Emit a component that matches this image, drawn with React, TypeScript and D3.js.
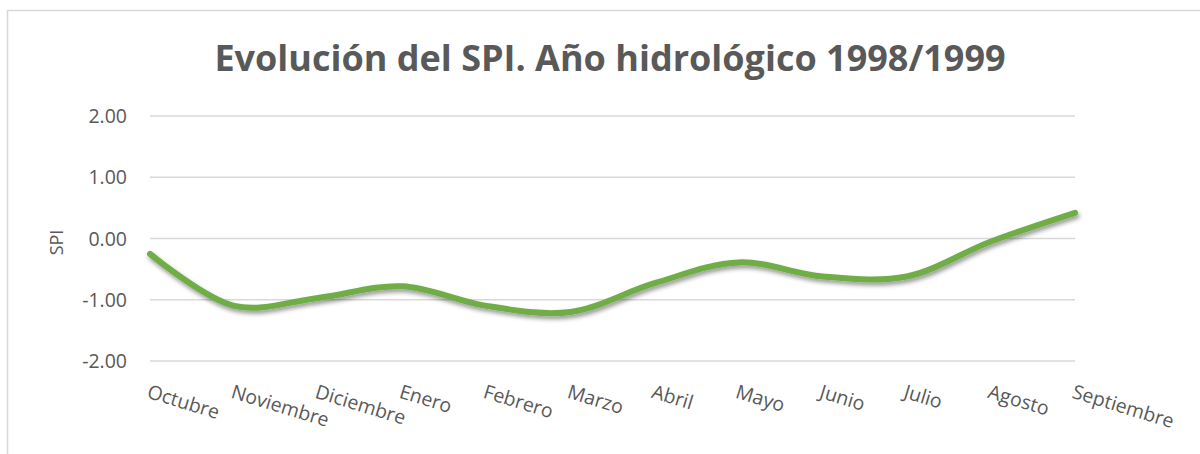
import React, { useEffect, useRef } from 'react';
import * as d3 from 'd3';

const MONTHS = [
  'Octubre', 'Noviembre', 'Diciembre', 'Enero', 'Febrero', 'Marzo',
  'Abril', 'Mayo', 'Junio', 'Julio', 'Agosto', 'Septiembre',
];
const SPI = [-0.25, -1.1, -0.97, -0.78, -1.1, -1.2, -0.73, -0.39, -0.62, -0.62, -0.05, 0.42];
const Y_TICKS = [-2, -1, 0, 1, 2];

const TITLE = 'Evolución del SPI. Año hidrológico 1998/1999';
const FONT = 'Open Sans, sans-serif';
const TEXT = '#595959';

const App: React.FC = () => {
  const svgRef = useRef<SVGSVGElement>(null);

  useEffect(() => {
    if (!svgRef.current) return;
    const width = 1200;
    const height = 454;
    const margin = { top: 116, right: 125, bottom: 93, left: 150 };
    const innerW = width - margin.left - margin.right;
    const innerH = height - margin.top - margin.bottom;

    const svg = d3.select(svgRef.current);
    svg.selectAll('*').remove();
    svg.attr('width', width).attr('height', height);

    const defs = svg.append('defs');
    const f = defs.append('filter').attr('id', 'shadow').attr('x', '-10%').attr('y', '-50%')
      .attr('width', '120%').attr('height', '200%');
    f.append('feDropShadow').attr('dx', 1.5).attr('dy', 3).attr('stdDeviation', 2.2)
      .attr('flood-color', '#000').attr('flood-opacity', 0.4);

    svg.append('rect').attr('width', width).attr('height', height).attr('fill', '#fff');
    svg.append('rect')
      .attr('x', 7.5).attr('y', 10.5).attr('width', 1300).attr('height', 600)
      .attr('fill', 'none').attr('stroke', '#d9d9d9').attr('stroke-width', 1.5);

    svg.append('text')
      .attr('x', 610).attr('y', 71)
      .attr('text-anchor', 'middle')
      .attr('fill', TEXT)
      .attr('font-family', FONT)
      .attr('font-weight', 'bold')
      .attr('font-size', '36px')
      .text(TITLE);

    const g = svg.append('g').attr('transform', `translate(${margin.left},${margin.top})`);

    const x = d3.scalePoint<string>().domain(MONTHS).range([0, innerW]);
    const y = d3.scaleLinear().domain([-2, 2]).range([innerH, 0]);

    g.selectAll('line.grid')
      .data(Y_TICKS)
      .join('line')
      .attr('class', 'grid')
      .attr('x1', 0).attr('x2', innerW)
      .attr('y1', (d) => y(d)).attr('y2', (d) => y(d))
      .attr('stroke', '#d9d9d9').attr('stroke-width', 1.5);

    g.selectAll('text.ytick')
      .data(Y_TICKS)
      .join('text')
      .attr('class', 'ytick')
      .attr('x', -23).attr('y', (d) => y(d))
      .attr('dy', '0.36em')
      .attr('text-anchor', 'end')
      .attr('fill', TEXT)
      .attr('font-family', FONT)
      .attr('font-size', '19.5px')
      .text((d) => d3.format('.2f')(d).replace('−', '-'));

    g.selectAll('text.xtick')
      .data(MONTHS)
      .join('text')
      .attr('class', 'xtick')
      .attr('transform', (d) => `translate(${x(d)},${innerH + 23}) rotate(17)`)
      .attr('dy', '0.72em')
      .attr('fill', TEXT)
      .attr('font-family', FONT)
      .attr('font-size', '19.5px')
      .text((d) => d);

    g.append('text')
      .attr('transform', `translate(-87,${y(0) + 4}) rotate(-90)`)
      .attr('text-anchor', 'middle')
      .attr('fill', TEXT)
      .attr('font-family', FONT)
      .attr('font-size', '18px')
      .text('SPI');

    const line = d3.line<number>()
      .x((_, i) => x(MONTHS[i]) ?? 0)
      .y((d) => y(d))
      .curve(d3.curveCatmullRom.alpha(0.5));

    g.append('path')
      .datum(SPI)
      .attr('d', line)
      .attr('fill', 'none')
      .attr('stroke', '#70ad47')
      .attr('stroke-width', 6)
      .attr('stroke-linecap', 'round')
      .attr('filter', 'url(#shadow)');
  }, []);

  return (
    <svg
      ref={svgRef}
      style={{ position: 'absolute', left: 0, top: 0, display: 'block' }}
      role="img"
      aria-label={TITLE}
    />
  );
};

export default App;
